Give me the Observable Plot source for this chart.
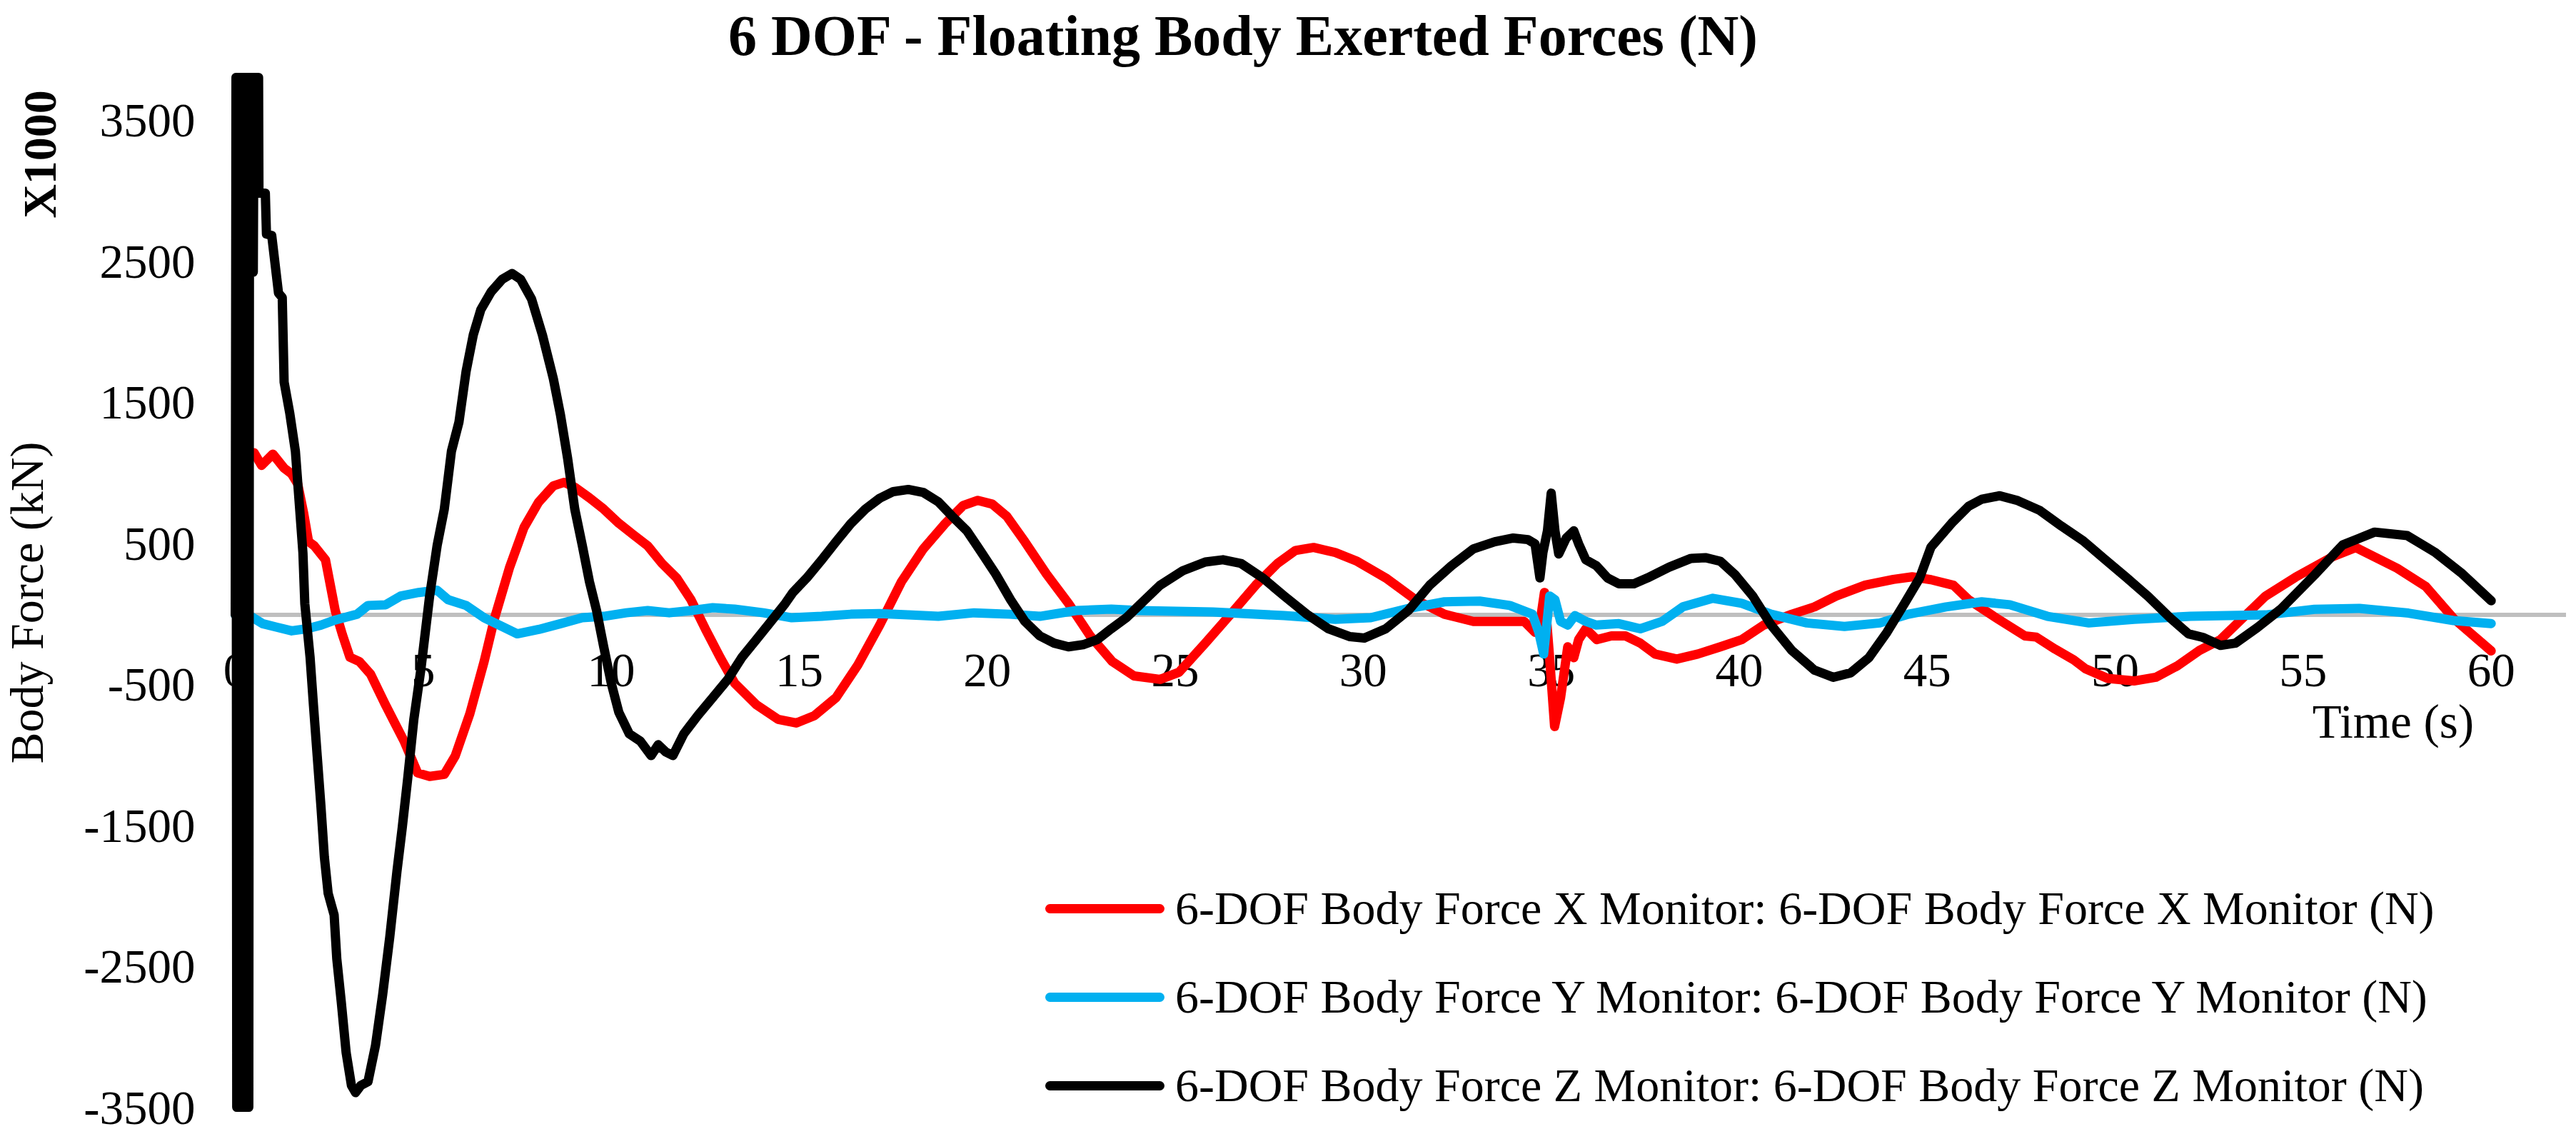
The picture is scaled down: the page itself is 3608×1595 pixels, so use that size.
<!DOCTYPE html>
<html>
<head>
<meta charset="utf-8">
<script src="https://cdn.jsdelivr.net/npm/d3@7"></script>
<script src="https://cdn.jsdelivr.net/npm/@observablehq/plot@0.6"></script>
<style>
  html, body { margin: 0; padding: 0; background: #fff; }
  #wrap { position: relative; width: 3608px; height: 1595px; padding-top: 102px; box-sizing: border-box; font-family: "Liberation Serif", "Times New Roman", serif; color: #000; }
  #wrap svg { display: block; }
  .title { position: absolute; left: 0; top: 10px; width: 3482px; text-align: center; font-weight: bold; font-size: 80px; line-height: 80px; white-space: nowrap; }
  .rot { position: absolute; white-space: nowrap; transform: translate(-50%, -50%) rotate(-90deg); line-height: 1; }
  .legend { position: absolute; left: 1464px; top: 1210px; }
  .row { display: flex; align-items: center; height: 124px; }
  .sw { width: 167px; height: 13px; border-radius: 6.5px; margin-right: 15px; }
  .lt { font-size: 66px; line-height: 1; white-space: nowrap; }
</style>
</head>
<body>
<div id="wrap">
  <div class="title">6 DOF - Floating Body Exerted Forces (N)</div>
  <div class="rot" style="left:56px; top:216px; font-weight:bold; font-size:66px;">X1000</div>
  <div class="rot" style="left:38px; top:844px; font-size:66px;">Body Force (kN)</div>
  <div class="legend" id="legend"></div>
</div>
<script>
// ---- data ----
const seriesNames = [
  "6-DOF Body Force X Monitor: 6-DOF Body Force X Monitor (N)",
  "6-DOF Body Force Y Monitor: 6-DOF Body Force Y Monitor (N)",
  "6-DOF Body Force Z Monitor: 6-DOF Body Force Z Monitor (N)"
];
const seriesColors = ["#FF0000", "#00B0F0", "#000000"];

const xTicks = [0, 5, 10, 15, 20, 25, 30, 35, 40, 45, 50, 55, 60];
const yTicks = [3500, 2500, 1500, 500, -500, -1500, -2500, -3500];

const timeX = [0.05,0.3,0.5,0.7,1.0,1.3,1.5,1.66,1.82,1.95,2.1,2.4,2.66,2.85,3.05,3.3,3.6,4.0,4.5,4.85,5.17,5.56,5.85,6.24,6.62,6.9,7.3,7.68,8.07,8.46,8.75,9.03,9.42,9.8,10.2,10.58,10.97,11.35,11.74,12.12,12.5,12.9,13.28,13.86,14.44,14.92,15.4,15.98,16.56,17.14,17.72,18.3,18.88,19.36,19.75,20.13,20.52,21.0,21.58,22.16,22.74,23.32,23.9,24.6,25.1,25.8,26.56,27.14,27.72,28.2,28.68,29.26,29.84,30.6,31.39,32.16,32.93,33.7,34.28,34.57,34.7,34.82,34.95,35.09,35.25,35.44,35.6,35.73,35.92,36.21,36.6,36.98,37.37,37.76,38.34,38.9,39.5,40.07,40.65,41.4,42.0,42.58,43.35,44.1,44.6,45.1,45.7,46.1,46.83,47.6,47.9,48.4,48.9,49.2,49.8,50.5,51.08,51.66,52.24,52.8,53.4,54.0,54.8,55.8,56.4,57.5,58.26,59.0,60];
const forceX = [980,1120,1150,1060,1140,1040,1000,930,720,520,490,390,30,-140,-300,-330,-420,-640,-900,-1120,-1145,-1130,-1000,-700,-330,-20,340,620,800,915,940,905,830,750,650,570,490,365,262,108,-98,-303,-483,-637,-740,-766,-714,-586,-355,-72,236,468,647,776,812,786,699,519,288,82,-149,-329,-432,-457,-406,-200,31,211,365,457,478,442,380,262,108,5,-46,-46,-46,-123,-60,159,-277,-791,-586,-226,-303,-175,-98,-175,-149,-149,-200,-277,-313,-277,-226,-175,-72,5,57,134,211,252,270,250,210,108,-20,-149,-157,-242,-319,-380,-450,-468,-442,-360,-252,-175,-20,134,268,415,478,331,202,-25,-255];

const timeY = [0,0.35,0.73,1.1,1.5,1.9,2.28,2.66,3.24,3.53,4.0,4.4,4.88,5.37,5.66,6.14,6.62,7.1,7.5,8.07,8.65,9.23,9.8,10.4,10.97,11.54,12.12,12.7,13.28,14.05,14.8,15.6,16.37,17.14,17.9,18.7,19.65,20.6,21.4,22.36,23.3,24.05,26,27.9,29.26,30.2,31.2,32.16,33.1,33.9,34.5,34.67,34.8,34.96,35.1,35.25,35.44,35.63,35.92,36.2,36.8,37.37,37.95,38.5,39.3,40.07,40.85,41.8,42.8,43.74,44.5,45.5,46.45,47.2,48.2,49.3,50.5,52,54,55.3,56.5,57.8,59,60];
const forceY = [0,0,-62,-87,-113,-98,-72,-36,5,67,72,134,159,175,108,67,-20,-82,-134,-103,-62,-20,-10,15,31,15,31,51,41,15,-20,-10,5,10,0,-10,15,5,-10,31,41,31,21,-5,-31,-20,46,93,98,67,5,-123,-277,134,108,-46,-72,-5,-46,-72,-62,-98,-46,57,118,82,5,-57,-82,-57,5,57,93,72,-10,-57,-31,-10,0,40,46,13,-40,-61];

const timeZ = [0,0.02,0.04,0.06,0.08,0.1,0.12,0.14,0.16,0.18,0.2,0.22,0.24,0.26,0.28,0.3,0.32,0.34,0.36,0.38,0.4,0.42,0.44,0.46,0.48,0.5,0.52,0.54,0.56,0.58,0.62,0.63,0.8,0.83,0.97,1.15,1.25,1.3,1.45,1.6,1.7,1.8,1.85,1.99,2.08,2.18,2.28,2.37,2.47,2.63,2.7,2.82,2.95,3.09,3.2,3.34,3.53,3.73,3.92,4.11,4.3,4.44,4.59,4.75,4.94,5.17,5.37,5.56,5.75,5.95,6.14,6.33,6.53,6.81,7.1,7.36,7.59,7.88,8.17,8.46,8.65,8.84,9.03,9.23,9.42,9.61,9.8,10.0,10.2,10.48,10.77,11.06,11.25,11.45,11.64,11.93,12.3,12.7,13.1,13.47,13.86,14.25,14.63,14.83,15.2,15.6,15.98,16.37,16.76,17.14,17.5,17.9,18.3,18.7,19.07,19.46,19.85,20.23,20.62,21.0,21.4,21.78,22.16,22.55,22.93,23.3,23.7,24.05,24.6,25.2,25.8,26.27,26.75,27.33,27.9,28.5,29.07,29.65,30.03,30.6,31.2,31.77,32.35,32.93,33.5,33.99,34.38,34.57,34.7,34.78,34.9,35.0,35.1,35.2,35.4,35.6,35.73,35.92,36.2,36.5,36.8,37.2,37.56,38.14,38.72,39.1,39.5,39.88,40.36,40.85,41.4,42,42.5,42.97,43.45,43.93,44.4,44.8,45.1,45.65,46.1,46.45,46.93,47.41,48,48.57,49.15,49.7,50.3,50.88,51.46,51.95,52.33,52.8,53.2,53.78,54.4,55.3,56.05,56.9,57.77,58.5,59.2,60];
const forceZ = [0,3810,-3490,3810,-3490,3810,-3490,3810,-3490,3810,-3490,3810,-3490,3810,-3490,3810,-3490,3810,-3490,3810,2430,3810,2430,3810,2430,3810,2990,3810,2990,3810,3810,2990,2990,2700,2690,2282,2250,1650,1430,1160,800,440,80,-300,-640,-1000,-1360,-1716,-1973,-2127,-2436,-2744,-3104,-3335,-3386,-3335,-3309,-3052,-2693,-2282,-1819,-1511,-1151,-740,-380,134,493,750,1161,1367,1727,1984,2163,2292,2379,2420,2379,2240,1984,1675,1418,1110,750,493,236,31,-226,-483,-689,-843,-894,-997,-920,-971,-997,-843,-714,-586,-457,-303,-175,-46,82,159,262,391,519,647,750,827,874,889,868,802,699,596,442,288,108,-46,-149,-200,-226,-211,-175,-98,-20,70,211,313,375,391,365,262,134,5,-98,-154,-164,-98,31,211,349,468,519,545,534,504,262,442,596,863,596,432,545,596,504,391,349,262,221,221,262,339,401,406,380,288,134,-72,-252,-391,-442,-410,-303,-123,82,262,480,650,770,820,845,810,740,630,525,400,265,130,-20,-134,-159,-216,-200,-90,40,283,496,587,562,445,299,100];

// ---- build rows ----
const rows = (ts, vs) => ts.map((t, i) => ({t, v: vs[i]}));
const dataX = rows(timeX, forceX);
const dataY = rows(timeY, forceY);
const dataZ = rows(timeZ, forceZ);

const font = "'Liberation Serif', 'Times New Roman', serif";

const chart = Plot.plot({
  width: 3608,
  height: 1493,
  marginLeft: 329,
  marginRight: 14,
  marginTop: 0,
  marginBottom: 39,
  style: {fontFamily: font, fontSize: "67px", color: "#000", background: "#fff", overflow: "visible"},
  x: {domain: [0, 62], axis: null},
  y: {domain: [-3520, 3840], axis: null},
  marks: [
    Plot.ruleX([0], {stroke: "#BFBFBF", strokeWidth: 3}),
    Plot.ruleY([0], {stroke: "#BFBFBF", strokeWidth: 6}),
    Plot.axisY(yTicks, {tickSize: 0, tickPadding: 56, fontSize: 67, tickFormat: d => String(d), label: null, fill: "#000"}),
    Plot.text(xTicks, {x: d => d, y: 0, dy: 78, text: d => String(d), fontSize: 67, fill: "#000"}),
    Plot.text(["Time (s)"], {x: () => xTicks[xTicks.length - 1], y: 0, dy: 150, dx: -24, textAnchor: "end", fontSize: 67, fill: "#000"}),
    Plot.line(dataX, {x: "t", y: "v", stroke: seriesColors[0], strokeWidth: 13, strokeLinejoin: "round", strokeLinecap: "round"}),
    Plot.line(dataY, {x: "t", y: "v", stroke: seriesColors[1], strokeWidth: 13, strokeLinejoin: "round", strokeLinecap: "round"}),
    Plot.line(dataZ, {x: "t", y: "v", stroke: seriesColors[2], strokeWidth: 13, strokeLinejoin: "round", strokeLinecap: "round"})
  ]
});
document.getElementById("wrap").appendChild(chart);

const legend = document.getElementById("legend");
seriesNames.forEach((name, i) => {
  const row = document.createElement("div");
  row.className = "row";
  const sw = document.createElement("div");
  sw.className = "sw";
  sw.style.background = seriesColors[i];
  const lt = document.createElement("div");
  lt.className = "lt";
  lt.textContent = name;
  row.appendChild(sw);
  row.appendChild(lt);
  legend.appendChild(row);
});
</script>
</body>
</html>
